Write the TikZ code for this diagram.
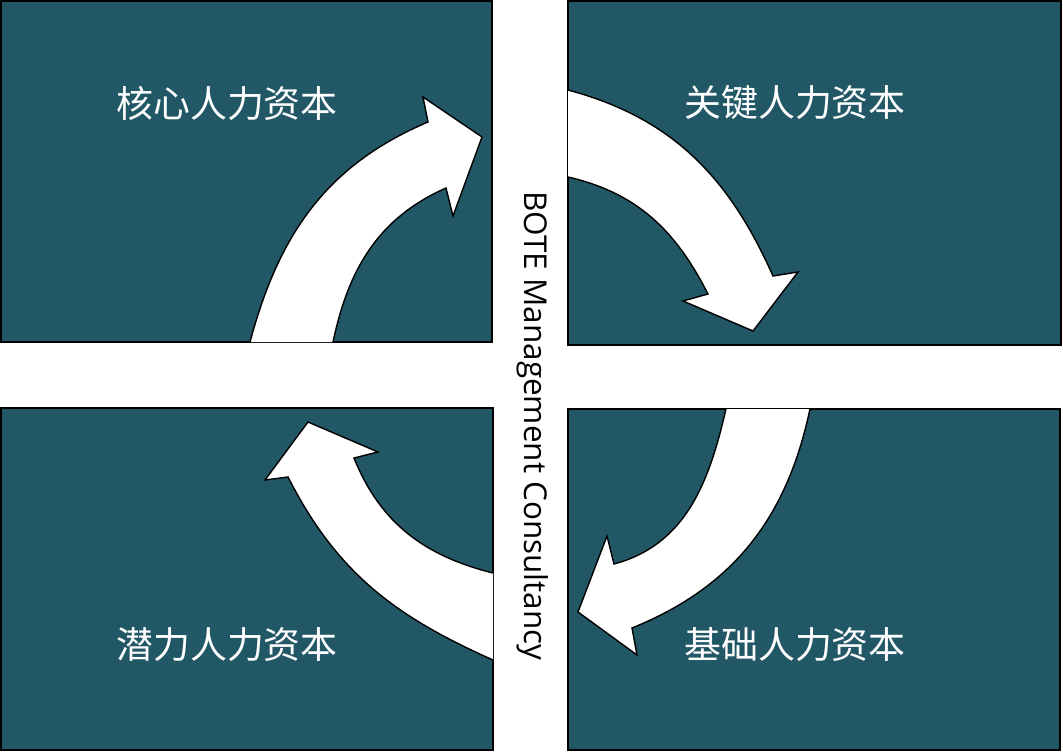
\documentclass[tikz,border=0pt]{standalone}
\usepackage{fontspec}
\newfontfamily\cjk{Noto Sans CJK SC}
\newfontfamily\latinfont{Open Sans}
\definecolor{petrolio}{HTML}{225866}

\begin{document}
\begin{tikzpicture}[x=0.02cm, y=0.02cm, line width=0.8pt,
  riquadro/.style={draw=black, fill=petrolio},
  freccia/.style={draw=black, fill=white, line join=miter},
  titolo/.style={text=white, font=\cjk\fontsize{21}{25}\selectfont}]

\useasboundingbox (0,0) rectangle (1063,752);

% Riquadri
\draw[riquadro] (1,410) rectangle (492,751);
\draw[riquadro] (568,407) rectangle (1061,751);
\draw[riquadro] (1,2) rectangle (493,344);
\draw[riquadro] (568,2) rectangle (1060,343);

% Freccia in alto a sinistra
\filldraw[freccia] (250,410) to[out=75, in=203] (428,630)
  -- (423,655) -- (482,615) -- (453,536) -- (446,564)
  to[out=204, in=78] (333,410);

% Freccia in alto a destra
\filldraw[freccia] (568,662) to[out=-15, in=114] (773,476)
  -- (798,480) -- (753,421) -- (683,451) -- (708,458)
  to[out=117, in=-13] (568,575);

% Freccia in basso a destra
\filldraw[freccia] (810,343) to[out=258, in=22] (632,124)
  -- (637,97) -- (578,140) -- (607,216) -- (614,188)
  to[out=15, in=257] (726,343);

% Freccia in basso a sinistra
\filldraw[freccia] (493,92) to[out=156, in=-63] (288,275)
  -- (265,272) -- (308,330) -- (378,300) -- (354,294)
  to[out=-68, in=166] (493,179);

% Etichette
\node[titolo] (core) at (227,649) {核心人力资本};
\node[titolo] (key) at (795,649) {关键人力资本};
\node[titolo] (potential) at (227,107) {潜力人力资本};
\node[titolo] (base) at (795,107) {基础人力资本};

% Scritta verticale
\node[rotate=-90, font=\latinfont\fontsize{17.9}{21}\selectfont] (bote) at (533,326)
  {BOTE Management Consultancy};

\end{tikzpicture}
\end{document}
